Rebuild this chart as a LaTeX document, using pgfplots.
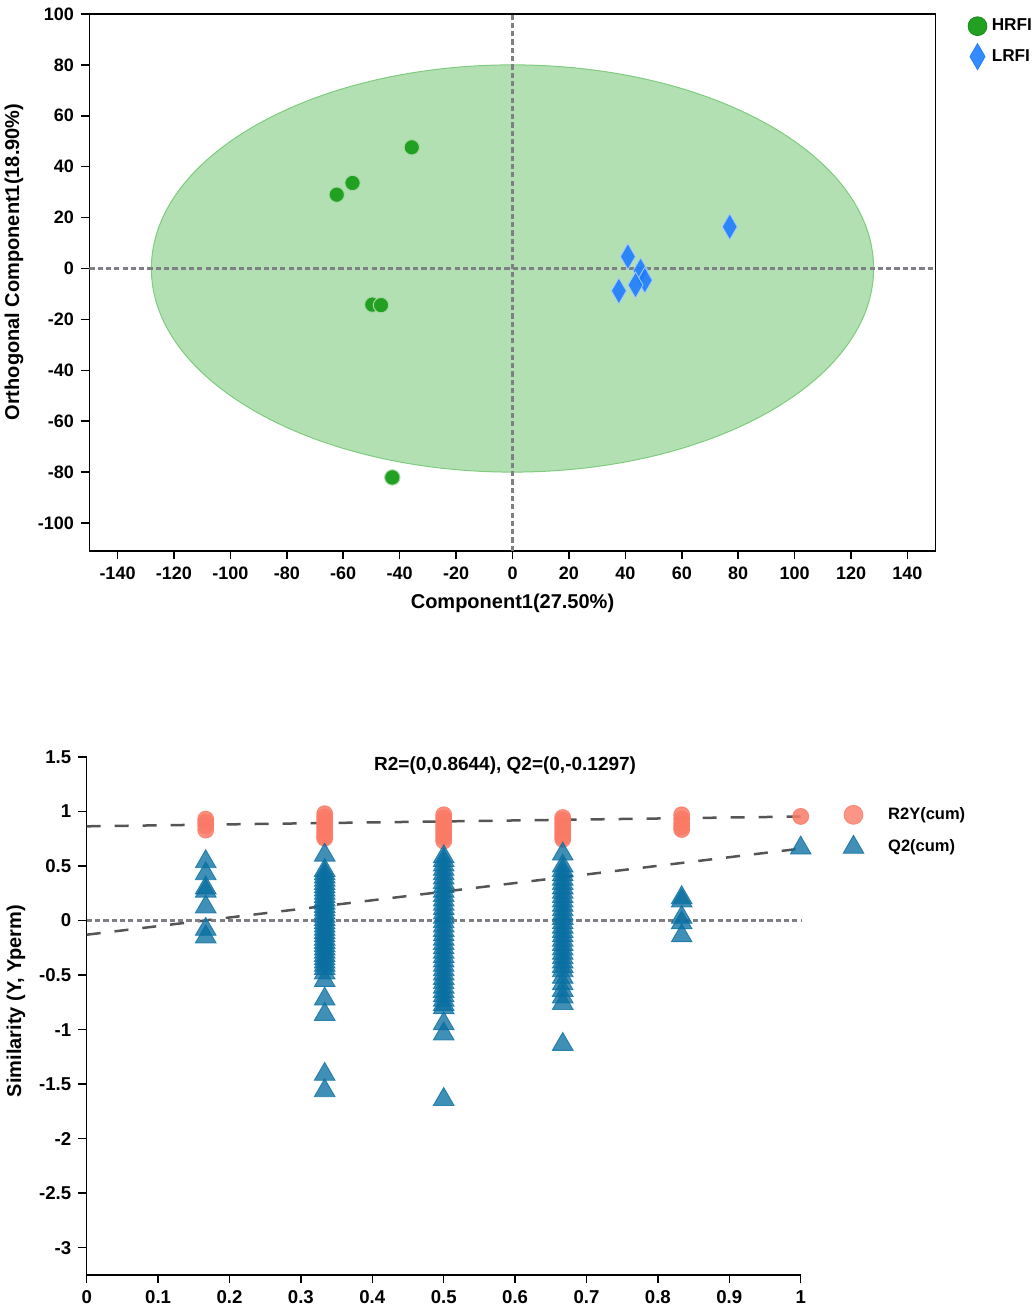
\documentclass[border=0pt]{standalone}
\usepackage{fontspec}
\setmainfont{Liberation Sans}
\usepackage{pgfplots}
\pgfplotsset{compat=1.18}
\definecolor{ellfill}{HTML}{B3E0B3}
\definecolor{elledge}{HTML}{7FCB7F}
\definecolor{hrfi}{HTML}{22A022}
\definecolor{lrfi}{HTML}{1E7DFF}
\definecolor{crossc}{HTML}{7F7F86}
\definecolor{r2c}{HTML}{FA7A66}
\definecolor{q2c}{HTML}{096FA1}
\definecolor{regc}{HTML}{555555}
\begin{document}
\begin{tikzpicture}[x=1pt,y=1pt]
\useasboundingbox (0,0) rectangle (518,655);
% ---------------- top: OPLS-DA score plot
\begin{axis}[
  at={(44.65pt,379.5pt)}, anchor=south west,
  scale only axis, width=423.2pt, height=268.5pt,
  xmin=-150, xmax=150, ymin=-111, ymax=100,
  xtick={-140,-120,-100,-80,-60,-40,-20,0,20,40,60,80,100,120,140},
  xticklabels={-140,-120,-100,-80,-60,-40,-20,0,20,40,60,80,100,120,140},
  ytick={-100,-80,-60,-40,-20,0,20,40,60,80,100},
  yticklabels={-100,-80,-60,-40,-20,0,20,40,60,80,100},
  tick pos=left, tick align=outside, major tick length=4.2pt,
  axis line style={line width=0.75pt},
  every tick/.style={black, line width=0.75pt},
  ticklabel style={font=\fontsize{9}{10}\selectfont\bfseries},
  xlabel={Component1(27.50\%)},
  ylabel={Orthogonal Component1(18.90\%)},
  label style={font=\fontsize{10}{12}\selectfont\bfseries},
  xlabel style={at={(axis description cs:0.5,-0.0968)}, anchor=center},
  ylabel style={at={(axis description cs:-0.089,0.538)}, anchor=center},
  legend style={draw=none, fill=none, at={(axis description cs:1,1)}, anchor=north west,
    xshift=13pt, yshift=1.8pt, font=\fontsize{8.6}{10}\selectfont\bfseries, row sep=3pt},
  legend cell align=left,
  legend image code/.code={\draw[#1] plot coordinates {(0pt,0pt)};},
]
\draw[fill=ellfill, draw=elledge, line width=0.5pt] (axis cs:0,0) ellipse [x radius=128, y radius=80];
\addplot[forget plot, only marks, mark=*, mark size=3.85pt, mark options={fill=hrfi, draw=hrfi!40!white, line width=0.5pt}]
  coordinates {(-35.7,47.6) (-56.7,33.6) (-62.3,29.0) (-49.7,-14.2) (-46.6,-14.4) (-42.6,-82.1)};
\addplot[forget plot, only marks, mark=diamond*, mark size=6.5pt, mark options={xscale=0.77, fill=lrfi, fill opacity=0.9, draw=lrfi!40!white, line width=0.4pt}]
  coordinates {(77,16.4) (40.9,4.7) (45.4,-0.9) (46.9,-4.6) (43.6,-6.5) (37.7,-8.8)};
\addplot[forget plot, crossc, line width=1.35pt, dash pattern=on 2.6pt off 1.55pt] coordinates {(-150,0) (150,0)};
\addplot[forget plot, crossc, line width=1.35pt, dash pattern=on 2.6pt off 1.55pt] coordinates {(0,-111) (0,100)};
\addlegendimage{only marks, mark=*, mark size=4.7pt, mark options={fill=hrfi, draw=hrfi!85!black, line width=0.4pt}}
\addlegendentry{\hspace{0.45pt}HRFI}
\addlegendimage{only marks, mark=diamond*, mark size=6.5pt, mark options={xscale=0.77, fill=lrfi, fill opacity=0.9, draw=lrfi, line width=0.4pt}}
\addlegendentry{\hspace{0.45pt}LRFI}
\end{axis}
% ---------------- bottom: permutation test
\begin{axis}[
  at={(43.35pt,17.5pt)}, anchor=south west,
  scale only axis, width=357pt, height=259pt,
  xmin=0, xmax=1, ymin=-3.25, ymax=1.5,
  axis x line*=bottom, axis y line*=left,
  xtick={0,0.1,0.2,0.3,0.4,0.5,0.6,0.7,0.8,0.9,1},
  xticklabels={0,0.1,0.2,0.3,0.4,0.5,0.6,0.7,0.8,0.9,1},
  ytick={-3,-2.5,-2,-1.5,-1,-0.5,0,0.5,1,1.5},
  yticklabels={-3,-2.5,-2,-1.5,-1,-0.5,0,0.5,1,1.5},
  tick align=outside, major tick length=4.2pt,
  axis line style={line width=0.75pt},
  every tick/.style={black, line width=0.75pt},
  ticklabel style={font=\fontsize{9.3}{10}\selectfont\bfseries},
  ylabel={Similarity (Y, Yperm)},
  label style={font=\fontsize{10}{12}\selectfont\bfseries},
  ylabel style={at={(axis description cs:-0.099,0.529)}, anchor=center},
  clip=false,
  legend style={draw=none, fill=none, at={(axis description cs:1,0.919)}, anchor=north west,
    xshift=18pt, font=\fontsize{8.25}{10}\selectfont\bfseries, row sep=4.5pt},
  legend cell align=left,
  legend image code/.code={\draw[#1] plot coordinates {(0pt,0pt)};},
]
\addplot[forget plot, only marks, mark=*, mark size=4pt, mark options={fill=r2c, draw=r2c, fill opacity=0.85, draw opacity=0.85}]
  coordinates {
  (0.1667,0.93) (0.1667,0.90) (0.1667,0.87) (0.1667,0.83)
  (0.3333,0.98) (0.3333,0.95) (0.3333,0.92) (0.3333,0.89) (0.3333,0.86) (0.3333,0.83) (0.3333,0.80) (0.3333,0.77) (0.3333,0.755)
  (0.5,0.97) (0.5,0.94) (0.5,0.91) (0.5,0.88) (0.5,0.85) (0.5,0.82) (0.5,0.79) (0.5,0.76) (0.5,0.73)
  (0.6667,0.945) (0.6667,0.92) (0.6667,0.89) (0.6667,0.86) (0.6667,0.83) (0.6667,0.80) (0.6667,0.77) (0.6667,0.745)
  (0.8333,0.97) (0.8333,0.93) (0.8333,0.89) (0.8333,0.86) (0.8333,0.835)
  (1,0.955)};
\addplot[forget plot, only marks, mark=triangle*, mark size=6pt, mark options={fill=q2c, draw=q2c, fill opacity=0.78, draw opacity=0.8, line width=0.4pt}]
  coordinates {
  (0.1667,0.54) (0.1667,0.43) (0.1667,0.30) (0.1667,0.27) (0.1667,0.125) (0.1667,-0.08) (0.1667,-0.15)
  (0.3333,0.60) (0.3333,0.46) (0.3333,0.43) (0.3333,0.40) (0.3333,0.37) (0.3333,0.34) (0.3333,0.31) (0.3333,0.28)
  (0.3333,0.25) (0.3333,0.22) (0.3333,0.19) (0.3333,0.16) (0.3333,0.13) (0.3333,0.10) (0.3333,0.07) (0.3333,0.04)
  (0.3333,0.01) (0.3333,-0.02) (0.3333,-0.05) (0.3333,-0.08) (0.3333,-0.11) (0.3333,-0.14) (0.3333,-0.17) (0.3333,-0.20)
  (0.3333,-0.23) (0.3333,-0.26) (0.3333,-0.29) (0.3333,-0.32) (0.3333,-0.35) (0.3333,-0.38) (0.3333,-0.41) (0.3333,-0.44)
  (0.3333,-0.48) (0.3333,-0.55) (0.3333,-0.72) (0.3333,-0.86) (0.3333,-1.41) (0.3333,-1.56)
  (0.5,0.585) (0.5,0.55) (0.5,0.51) (0.5,0.47) (0.5,0.43) (0.5,0.39) (0.5,0.35) (0.5,0.31) (0.5,0.27) (0.5,0.23)
  (0.5,0.19) (0.5,0.15) (0.5,0.11) (0.5,0.07) (0.5,0.03) (0.5,-0.01) (0.5,-0.05) (0.5,-0.09) (0.5,-0.13) (0.5,-0.17)
  (0.5,-0.21) (0.5,-0.25) (0.5,-0.29) (0.5,-0.33) (0.5,-0.37) (0.5,-0.41) (0.5,-0.45) (0.5,-0.49) (0.5,-0.53) (0.5,-0.57)
  (0.5,-0.61) (0.5,-0.65) (0.5,-0.69) (0.5,-0.73) (0.5,-0.77) (0.5,-0.80) (0.5,-0.945) (0.5,-1.04) (0.5,-1.64)
  (0.6667,0.61) (0.6667,0.50) (0.6667,0.46) (0.6667,0.42) (0.6667,0.38) (0.6667,0.34) (0.6667,0.30) (0.6667,0.26)
  (0.6667,0.22) (0.6667,0.18) (0.6667,0.14) (0.6667,0.10) (0.6667,0.06) (0.6667,0.02) (0.6667,-0.02) (0.6667,-0.06)
  (0.6667,-0.10) (0.6667,-0.14) (0.6667,-0.18) (0.6667,-0.22) (0.6667,-0.26) (0.6667,-0.30) (0.6667,-0.34) (0.6667,-0.38)
  (0.6667,-0.42) (0.6667,-0.46) (0.6667,-0.52) (0.6667,-0.58) (0.6667,-0.64) (0.6667,-0.70) (0.6667,-0.76) (0.6667,-1.135)
  (0.8333,0.21) (0.8333,0.18) (0.8333,0.03) (0.8333,-0.02) (0.8333,-0.14)
  (1,0.665)};
\addplot[forget plot, regc, line width=1.25pt, dash pattern=on 7pt off 7pt] coordinates {(0,0.8644) (1,0.954)};
\addplot[forget plot, regc, line width=1.25pt, dash pattern=on 7pt off 7pt] coordinates {(0,-0.1297) (1,0.66)};
\addplot[forget plot, crossc, line width=1.35pt, dash pattern=on 2.6pt off 1.55pt] coordinates {(0,0) (1,0)};
\addlegendimage{only marks, mark=*, mark size=4.75pt, mark options={fill=r2c, draw=r2c, fill opacity=0.8, draw opacity=0.8}}
\addlegendentry{\hspace{10.15pt}R2Y(cum)}
\addlegendimage{only marks, mark=triangle*, mark size=6pt, mark options={fill=q2c, draw=q2c, fill opacity=0.78, draw opacity=0.8, line width=0.4pt}}
\addlegendentry{\hspace{10.15pt}Q2(cum)}
\node[font=\fontsize{9.5}{11}\selectfont\bfseries, anchor=center] at (axis description cs:0.586,0.983) {R2=(0,0.8644), Q2=(0,-0.1297)};
\end{axis}
\end{tikzpicture}
\end{document}
